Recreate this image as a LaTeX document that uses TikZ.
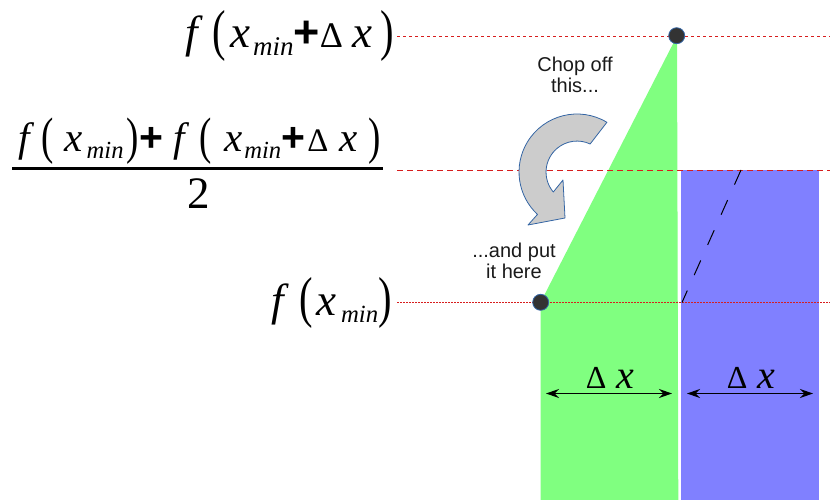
\documentclass[tikz,border=0pt]{standalone}
\usepackage{fontspec}
\usepackage{graphicx}
\setmainfont{Liberation Serif}
\newfontfamily\serf{Liberation Serif}
\newfontfamily\sansf{Liberation Sans}
\usetikzlibrary{arrows.meta}
\definecolor{greenfill}{RGB}{128,255,128}
\definecolor{bluefill}{RGB}{128,128,255}
\definecolor{guidered}{RGB}{215,30,30}
\definecolor{outlineblue}{RGB}{52,101,164}
\definecolor{dotfill}{RGB}{51,51,51}
\definecolor{arrowgray}{RGB}{204,204,204}
\definecolor{txtgray}{RGB}{26,26,26}
\newcommand{\mf}{{\serf\itshape f}}
\newcommand{\lpar}{\raisebox{-0.03em}{\scalebox{0.9}[1.25]{\serf(}}}
\newcommand{\rpar}{\raisebox{-0.03em}{\scalebox{0.9}[1.25]{\serf)}}}
\newcommand{\vx}{{\serf\itshape x}}
\newcommand{\smin}[1]{\raisebox{-0.17em}{\scalebox{#1}{\serf\itshape min}}}
\newcommand{\pls}{{\sansf\bfseries +}}
\newcommand{\dlt}{\scalebox{0.8}{\serf Δ}}
\newcommand{\hs}[1]{\hspace{#1em}}
\tikzset{
  toplabel/.style={inner sep=0pt, font=\serf\fontsize{45}{50}\selectfont},
  numlabel/.style={inner sep=0pt, font=\serf\fontsize{41}{46}\selectfont},
  dxlabel/.style={inner sep=0pt, font=\serf\fontsize{40}{44}\selectfont},
  sanslabel/.style={inner sep=0pt, align=center, text=txtgray, font=\sansf\fontsize{20}{21}\selectfont},
  guide/.style={guidered, line width=0.8pt},
  ptdot/.style={circle, draw=outlineblue, fill=dotfill, line width=0.8pt, minimum size=16pt, inner sep=0pt},
  widtharrow/.style={line width=1.2pt, {Stealth[length=13pt,width=9pt]}-{Stealth[length=13pt,width=9pt]}}
}
\begin{document}
\begin{tikzpicture}[x=1pt,y=-1pt]
\useasboundingbox (0,0) rectangle (830,500);
% filled areas
\fill[greenfill] (540.5,302.5) -- (677,36) -- (678.3,500) -- (540.5,500) -- cycle;
\fill[bluefill] (681,169.5) rectangle (819,500);
% guide lines
\coordinate (gt0) at (397,36);
\coordinate (gt1) at (830,36);
\coordinate (gm0) at (397,170);
\coordinate (gm1) at (830,170);
\coordinate (gb0) at (397,302.5);
\coordinate (gb1) at (830,302.5);
\draw[guide, dash pattern=on 3pt off 3pt] (gt0) -- (gt1);
\draw[guide, dash pattern=on 6pt off 4pt] (gm0) -- (gm1);
\draw[guide, dash pattern=on 1.5pt off 1.5pt] (gb0) -- (gb1);
% black dashed diagonal in blue
\coordinate (dd0) at (741,170);
\coordinate (dd1) at (682,302.5);
\draw[black, line width=1pt, dash pattern=on 16pt off 17pt] (dd0) -- (dd1);
% curved arrow
\draw[fill=arrowgray, draw=outlineblue, line width=0.8pt, line join=round]
  (606.9,122.3) arc[start angle=-59, end angle=-227, radius=58]
  -- (528,225) -- (565,218) -- (563,180) -- (553.3,192)
  arc[start angle=-220, end angle=-65, radius=31] -- cycle;
% points
\node[ptdot] (ptop) at (676.7,35.7) {};
\node[ptdot] (pbot) at (540.7,302.3) {};
% width arrows
\coordinate (ga0) at (546,393.5);
\coordinate (ga1) at (672,393.5);
\coordinate (ba0) at (687,393.5);
\coordinate (ba1) at (813,393.5);
\draw[widtharrow] (ga0) -- (ga1);
\draw[widtharrow] (ba0) -- (ba1);
\node[dxlabel, anchor=base] (dxg) at (610,388) {\dlt\hs{0.25}\vx};
\node[dxlabel, anchor=base] (dxb) at (751,388) {\dlt\hs{0.25}\vx};
% labels
\node[toplabel, anchor=base west] (ltop) at (185,48)
  {\mf\hs{0.33}\lpar\hs{0.1}\vx\hs{0.06}\smin{0.6}\pls\dlt\hs{0.2}\vx\hs{0.18}\rpar};
\node[numlabel, anchor=base west] (num) at (18,152)
  {\mf\hs{0.28}\lpar\hs{0.27}\vx\hs{0.1}\smin{0.6}\hs{0.08}\rpar\pls\hs{0.25}\mf\hs{0.36}\lpar\hs{0.3}\vx\hs{0.05}\smin{0.6}\pls\hs{0.05}\dlt\hs{0.28}\vx\hs{0.25}\rpar};
\coordinate (fb0) at (12,168.3);
\coordinate (fb1) at (383,168.3);
\draw[line width=3pt] (fb0) -- (fb1);
\node[toplabel, anchor=base] (den) at (199,208) {2};
\node[toplabel, anchor=base west] (lbot) at (271,315)
  {\mf\hs{0.36}\lpar\hs{0.08}\vx\hs{0.09}\smin{0.55}\rpar};
% texts
\node[sanslabel] (chop) at (575,75) {Chop off\\this...};
\node[sanslabel] (put) at (514,261.3) {...and put\\it here};
\end{tikzpicture}
\end{document}
